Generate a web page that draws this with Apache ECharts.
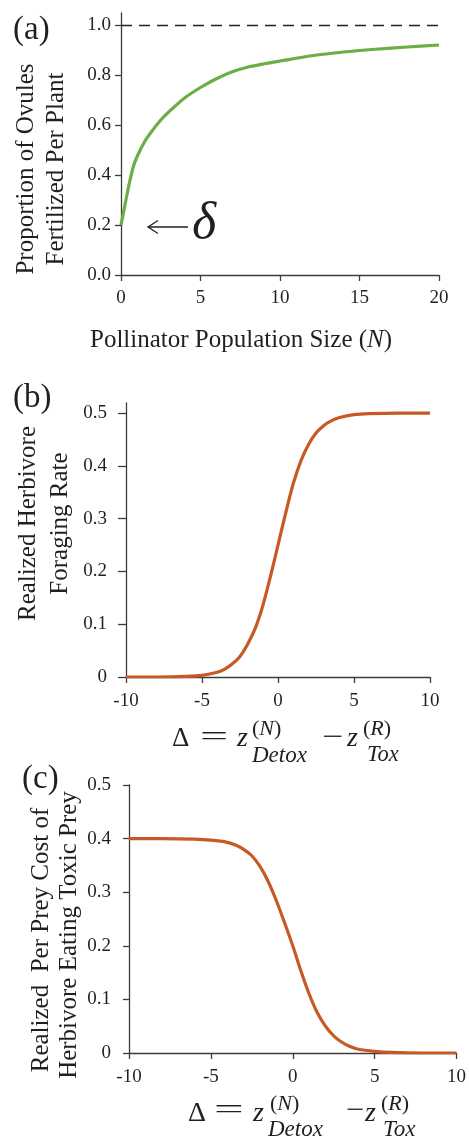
<!DOCTYPE html>
<html><head><meta charset="utf-8">
<script src="https://cdn.jsdelivr.net/npm/echarts@6/dist/echarts.min.js"></script>
<style>html,body{margin:0;padding:0;background:#fff}#c{width:469px;height:1142px}</style>
</head><body><div id="c"></div>
<script>
// ---- data ----
const nA = [0, 0.25, 0.5, 0.75, 1, 1.5, 2, 2.5, 3, 4, 5, 6, 7, 8, 9, 10, 12, 14, 16, 18, 20];
const propA = [0.20, 0.28, 0.36, 0.428, 0.472, 0.535, 0.58, 0.62, 0.652, 0.708, 0.75, 0.785, 0.813, 0.832, 0.845, 0.856, 0.877, 0.892, 0.903, 0.912, 0.92];
const deltaB = [-10, -8, -6, -5, -4, -3.5, -3, -2.5, -2, -1.5, -1, -0.5, 0, 0.5, 1, 1.5, 2, 2.5, 3, 3.5, 4, 5, 6, 8, 10];
const rateB = [0, 0, 0.001, 0.003, 0.009, 0.015, 0.025, 0.039, 0.062, 0.092, 0.135, 0.19, 0.25, 0.31, 0.366, 0.409, 0.44, 0.462, 0.476, 0.485, 0.491, 0.497, 0.499, 0.5, 0.5];
const deltaC = [-10, -8, -6, -5, -4, -3.5, -3, -2.5, -2, -1.5, -1, -0.5, 0, 0.5, 1, 1.5, 2, 2.5, 3, 3.5, 4, 5, 6, 8, 10];
const costC = [0.4, 0.4, 0.399, 0.397, 0.393, 0.388, 0.38, 0.368, 0.348, 0.32, 0.284, 0.243, 0.2, 0.153, 0.11, 0.075, 0.05, 0.032, 0.02, 0.012, 0.007, 0.003, 0.001, 0, 0];
const ticksXA = [0, 5, 10, 15, 20];
const ticksYA = [0, 0.2, 0.4, 0.6, 0.8, 1.0];
const ticksXBC = [-10, -5, 0, 5, 10];
const ticksYBC = [0, 0.1, 0.2, 0.3, 0.4, 0.5];
const refLineA = 1.0;

const FONT = '"Liberation Serif", "Times New Roman", serif';
const TXT = '#231f20';
const AX = '#3c3c3c';
const GREEN = '#6aae45';
const ORANGE = '#c75a24';

function zip(a, b) { return a.map((v, i) => [v, b[i]]); }

function xAx(gi, min, max, ticks, margin) {
  return {
    type: 'value', gridIndex: gi, min: min, max: max,
    axisLine: { show: true, onZero: false, lineStyle: { color: AX, width: 1.3 } },
    axisTick: { show: true, length: 6, lineStyle: { color: AX, width: 1.3 }, customValues: ticks },
    axisLabel: { customValues: ticks, fontFamily: FONT, fontSize: 19, color: TXT, margin: margin, formatter: v => String(v) },
    splitLine: { show: false }
  };
}
function yAx(gi, max, ticks, fmt, margin, tlen) {
  return {
    type: 'value', gridIndex: gi, min: 0, max: max,
    axisLine: { show: true, onZero: false, lineStyle: { color: AX, width: 1.3 } },
    axisTick: { show: true, length: tlen, lineStyle: { color: AX, width: 1.3 }, customValues: ticks },
    axisLabel: { customValues: ticks, fontFamily: FONT, fontSize: 19, color: TXT, margin: margin, formatter: fmt },
    splitLine: { show: false }
  };
}
const fmt1 = v => v.toFixed(1);
const fmtG = v => { const r = Math.round(v * 10) / 10; return r === 0 ? '0' : String(r); };

function t(text, x, y, size, opts) {
  opts = opts || {};
  return {
    type: 'text', x: x, y: y, rotation: opts.rot || 0, scaleX: opts.sx || 1,
    style: {
      text: text, fill: TXT, font: (opts.italic ? 'italic ' : '') + size + 'px ' + FONT,
      align: opts.align || 'left', verticalAlign: 'middle', lineHeight: opts.lh || size
    }
  };
}
// text with an italic letter wrapped in parentheses, e.g. (N)
function paren(letter, x, y, size) {
  return {
    type: 'text', x: x, y: y,
    style: { text: '({i|' + letter + '})', fill: TXT, font: size + 'px ' + FONT, verticalAlign: 'middle',
      rich: { i: { fontStyle: 'italic', fontFamily: FONT, fontSize: size, fill: TXT } } }
  };
}

const graphic = [
  // panel labels
  t('(a)', 13, 30, 33),
  t('(b)', 13, 398.5, 33),
  t('(c)', 22, 779, 33),
  // y titles
  t('Proportion of Ovules\nFertilized Per Plant', 41.5, 169, 25, { rot: Math.PI / 2, align: 'center', lh: 30 }),
  t('Realized Herbivore\nForaging Rate', 44.5, 523.5, 25, { rot: Math.PI / 2, align: 'center', lh: 32 }),
  t('Realized  Per Prey Cost of', 41.5, 940, 25, { rot: Math.PI / 2, align: 'center' }),
  t('Herbivore Eating Toxic Prey', 69.5, 935, 25, { rot: Math.PI / 2, align: 'center' }),
  // x title (a)
  { type: 'text', x: 90, y: 340, style: { text: 'Pollinator Population Size ({i|N})', fill: TXT, font: '25px ' + FONT, verticalAlign: 'middle',
      rich: { i: { fontStyle: 'italic', fontFamily: FONT, fontSize: 25, fill: TXT } } } },
  // delta annotation (a)
  { type: 'line', shape: { x1: 148, y1: 227, x2: 188, y2: 227 }, style: { stroke: TXT, lineWidth: 1.3 } },
  { type: 'polyline', shape: { points: [[158, 220.5], [148, 227], [158, 233.5]] }, style: { stroke: TXT, lineWidth: 1.3, fill: null } },
  t('δ', 192, 224, 52, { italic: true }),
  // x title (b)
  t('Δ', 172, 738.5, 27),
  t('=', 200, 737.5, 27, { sx: 1.85 }),
  t('z', 237, 738.4, 28, { italic: true }),
  paren('N', 252, 729, 22),
  t('Detox', 252, 755.5, 23, { italic: true }),
  t('−', 322, 737.5, 27, { sx: 1.4 }),
  t('z', 347, 738.4, 28, { italic: true }),
  paren('R', 363, 729, 22),
  t('Tox', 367, 755.5, 22.5, { italic: true }),
  // x title (c)
  t('Δ', 188, 1113.5, 28),
  t('=', 214, 1111, 27, { sx: 1.95 }),
  t('z', 253, 1113.5, 28, { italic: true }),
  paren('N', 270, 1104, 22),
  t('Detox', 268, 1130, 23, { italic: true }),
  t('−', 346, 1111, 27, { sx: 1.2 }),
  t('z', 365, 1113.5, 28, { italic: true }),
  paren('R', 381, 1104, 22),
  t('Tox', 383, 1130, 23, { italic: true })
];

const option = {
  animation: false,
  backgroundColor: '#fff',
  grid: [
    { left: 121, width: 318, top: 13, height: 262 },
    { left: 126, width: 304, top: 403, height: 274 },
    { left: 129, width: 329, top: 785, height: 268 }
  ],
  xAxis: [
    xAx(0, 0, 20, ticksXA, 14),
    xAx(1, -10, 10, ticksXBC, 15),
    xAx(2, -10, 10, ticksXBC, 15)
  ],
  yAxis: [
    yAx(0, 1.048, ticksYA, fmt1, 10, 6),
    yAx(1, 0.519, ticksYBC, fmtG, 19, 8),
    yAx(2, 0.5, ticksYBC, fmtG, 18, 6)
  ],
  series: [
    { type: 'line', xAxisIndex: 0, yAxisIndex: 0, data: zip(nA, propA), smooth: 0.3, showSymbol: false,
      lineStyle: { color: GREEN, width: 3.2 },
      markLine: { silent: true, symbol: 'none', label: { show: false },
        lineStyle: { color: '#222', width: 1.3, type: [11, 7] }, data: [{ yAxis: refLineA }] } },
    { type: 'line', xAxisIndex: 1, yAxisIndex: 1, data: zip(deltaB, rateB), smooth: 0.3, showSymbol: false,
      lineStyle: { color: ORANGE, width: 3.2 } },
    { type: 'line', xAxisIndex: 2, yAxisIndex: 2, data: zip(deltaC, costC), smooth: 0.3, showSymbol: false,
      lineStyle: { color: ORANGE, width: 3.2 } }
  ],
  graphic: graphic
};
const chart = echarts.init(document.getElementById('c'), null, { renderer: 'canvas' });
chart.setOption(option);
</script></body></html>
